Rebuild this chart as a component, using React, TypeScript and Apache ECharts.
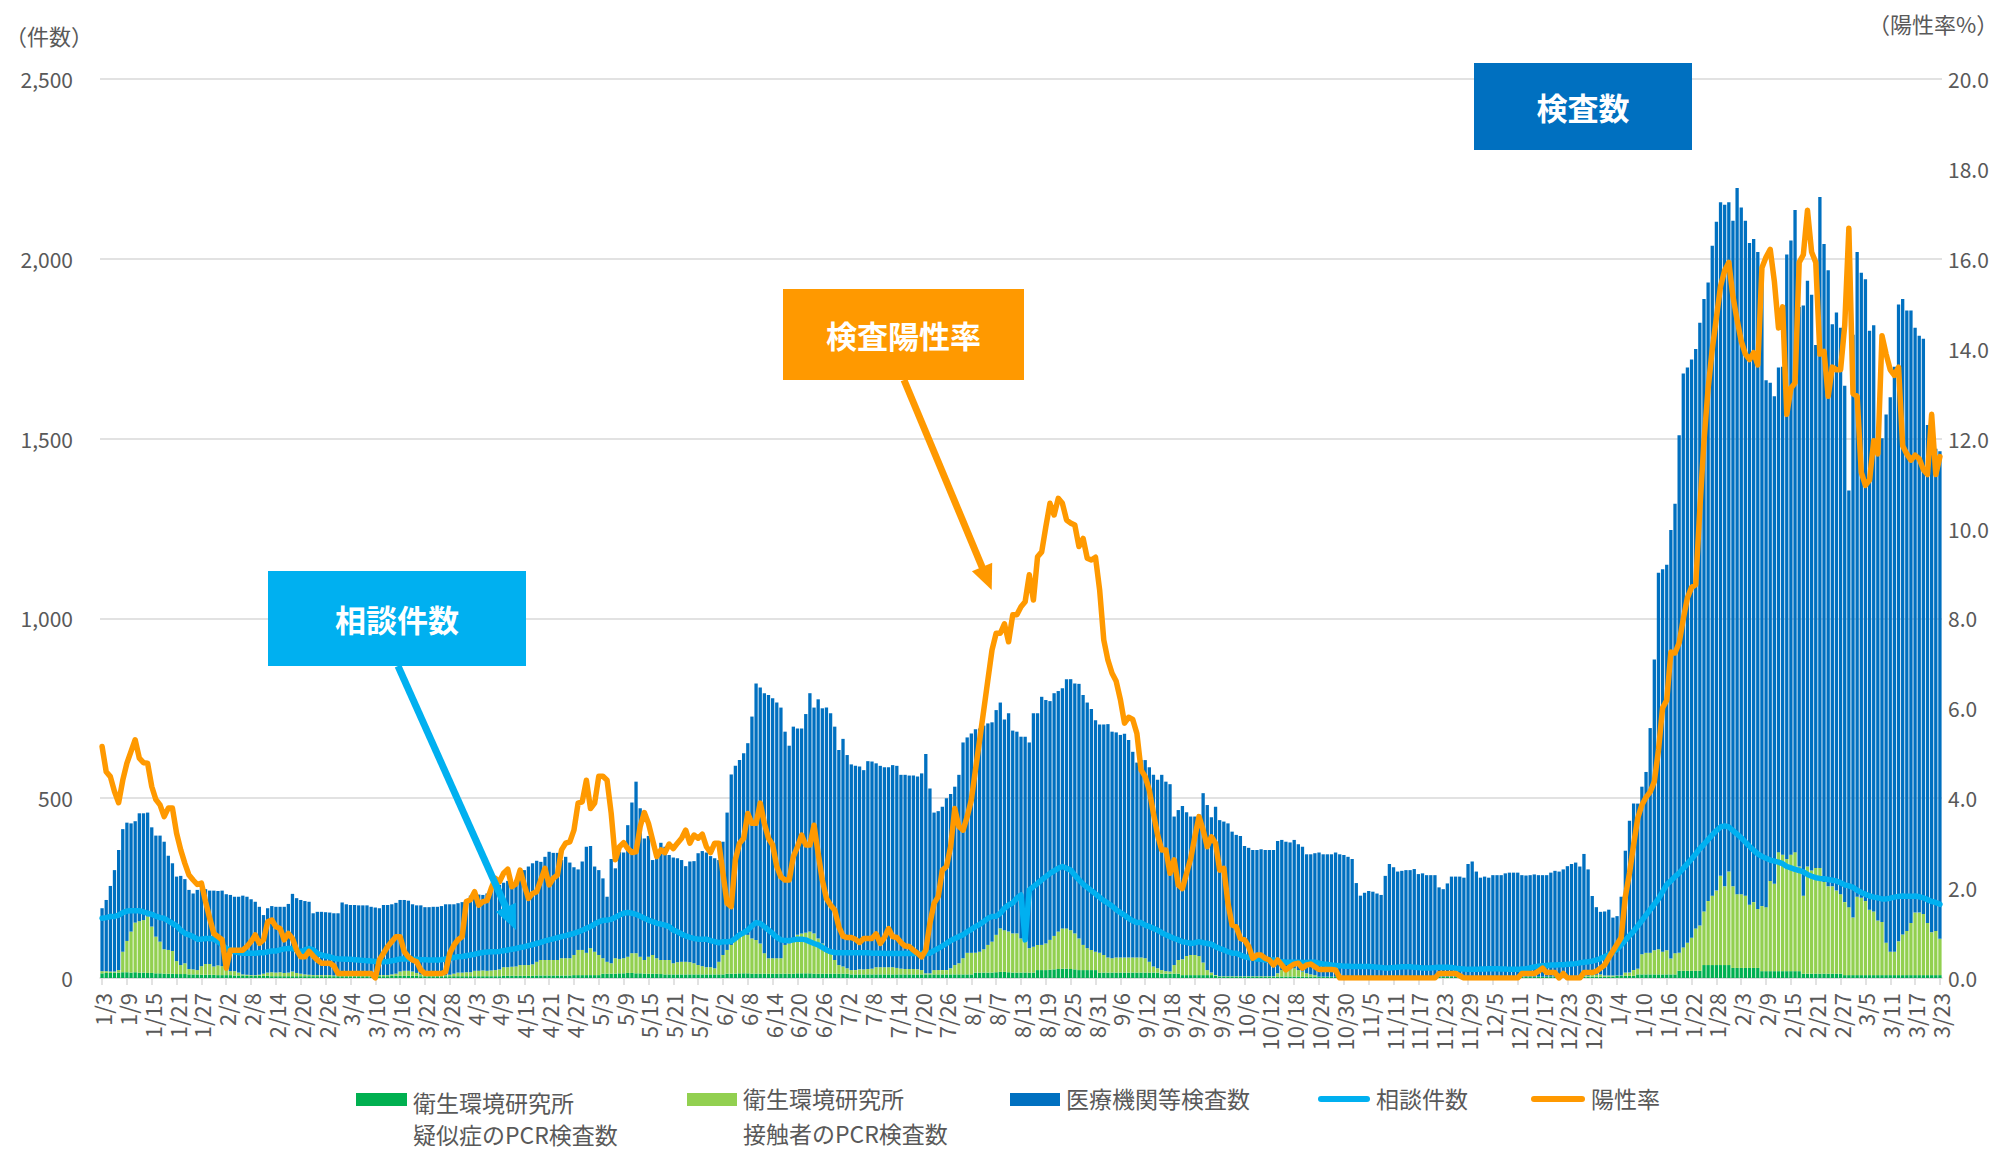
import React, { useEffect, useRef } from "react";
import * as echarts from "echarts";

const FONT = '"Noto Sans CJK JP", "Noto Sans", sans-serif';

// Daily categories 2022/1/3 – 2023/3/23
const START_UTC = Date.UTC(2022, 0, 3);
const DAY_COUNT = 445;
const categories: string[] = [];
for (let i = 0; i < DAY_COUNT; i++) {
  const d = new Date(START_UTC + i * 86400000);
  categories.push(`${d.getUTCMonth() + 1}/${d.getUTCDate()}`);
}

// 衛生環境研究所 疑似症のPCR検査数
const suspectTests = [
  13,14,14,15,15,16,16,15,16,15, 15,14,14,13,13,12,12,12,11,11,
  11,10,10,10,9,9,9,9,8,8, 8,8,7,7,7,6,6,6,6,6,
  6,5,5,5,5,5,5,5,5,5, 5,5,5,5,5,5,5,5,5,5,
  5,5,5,5,5,5,5,5,5,5, 6,6,6,6,6,6,6,5,5,5,
  5,5,5,5,5,5,5,5,5,5, 5,5,5,5,5,5,5,6,6,6,
  6,6,6,6,6,7,7,7,7,7, 7,7,7,7,8,8,8,8,8,8,
  8,12,12,12,12,13,13,14,14,13, 13,12,12,12,12,11,10,10,10,10,
  10,10,10,10,10,10,10,10,10,10, 10,12,12,12,13,13,13,12,12,12,
  12,12,12,12,12,12,12,12,13,13, 13,13,12,12,12,12,12,12,12,12,
  12,10,10,10,10,10,10,10,10,10, 10,10,10,10,10,10,10,10,10,10,
  10,10,10,10,10,10,10,10,10,10, 10,15,15,15,15,15,16,17,17,16,
  15,15,15,15,15,15,22,22,22,23, 24,25,26,26,25,24,22,22,22,22,
  22,15,15,15,15,15,15,15,15,15, 15,15,15,15,15,15,12,12,12,12,
  12,8,8,8,8,8,8,8,8,6, 4,4,4,4,4,4,4,4,4,4,
  4,4,4,4,4,4,4,4,4,4, 4,4,4,4,4,4,4,4,4,4,
  4,4,4,4,4,4,4,4,4,4, 4,4,4,4,4,4,4,4,4,4,
  4,4,4,4,4,4,4,4,4,4, 4,4,4,4,4,4,4,4,4,4,
  4,4,4,4,4,4,4,4,4,4, 4,4,4,4,4,4,4,4,4,4,
  4,4,4,4,4,4,6,6,6,6, 6,10,10,10,10,10,10,10,10,10,
  10,20,20,20,20,20,20,36,36,36, 36,36,36,36,28,28,28,28,28,28,
  28,19,19,19,19,19,19,19,19,19, 19,12,12,12,12,12,12,12,12,12,
  12,8,8,8,8,8,8,8,8,8, 8,8,8,8,8,8,8,8,8,8,
  8,8,8,8,8
];

// 衛生環境研究所 接触者のPCR検査数
const contactTests = [
  6,5,4,3,7,57,87,114,138,143, 146,157,129,102,88,68,66,63,36,25,
  30,15,14,12,24,30,30,23,27,25, 14,11,12,8,3,3,2,2,3,6,
  9,11,10,11,9,10,13,9,7,5, 4,3,3,3,3,3,2,2,2,2,
  2,2,2,2,2,2,2,3,3,3, 4,6,12,14,14,12,8,5,3,3,
  3,3,3,3,4,7,10,10,11,11, 15,15,16,15,16,17,19,24,24,25,
  26,30,30,30,32,38,43,43,43,43, 43,48,48,48,56,70,70,62,75,65,
  56,43,33,29,43,40,42,45,55,56, 46,38,47,52,43,39,40,40,31,34,
  35,35,34,31,26,23,20,20,17,35, 54,66,80,94,107,116,107,98,94,84,
  57,43,43,43,43,80,84,89,107,111, 113,116,112,98,84,66,57,38,24,20,
  15,12,12,14,14,15,16,20,20,20, 20,20,18,16,15,15,15,14,12,3,
  3,12,12,12,12,17,26,31,45,60, 60,55,58,65,77,86,104,121,116,113,
  109,109,95,86,68,72,70,70,74,83, 93,104,112,112,108,100,88,70,61,56,
  51,55,49,42,40,42,42,42,42,42, 42,42,40,30,17,12,10,7,6,24,
  38,44,53,56,56,53,35,14,7,2, 1,1,1,1,1,1,1,1,1,1,
  1,1,1,1,9,18,20,20,23,18, 14,9,6,4,0,0,0,0,0,0,
  0,0,0,0,0,0,0,0,0,0, 0,0,0,0,0,0,0,0,0,0,
  0,0,0,0,0,0,0,0,0,0, 0,0,0,0,0,0,0,0,0,0,
  0,0,0,0,0,0,0,0,0,0, 0,0,0,0,0,1,1,1,2,2,
  4,5,6,3,3,3,1,1,9,9, 16,16,56,60,60,67,70,63,67,44,
  59,50,65,78,92,118,126,149,178,193, 207,248,219,260,227,205,205,201,176,183,
  164,181,178,251,243,331,324,312,324,331, 291,217,298,287,294,294,255,243,243,231,
  221,203,189,160,218,215,206,182,177,152, 148,90,65,65,94,113,123,145,174,174,
  170,145,119,123,101
];

// 医療機関等検査数
const medicalTests = [
  175,198,238,282,334,341,329,301,282,300, 297,289,276,281,295,299,262,244,235,248,
  234,220,211,223,216,208,204,211,207,210, 211,212,207,211,219,217,211,204,189,163,
  179,184,183,182,184,191,216,208,205,204, 203,172,176,176,175,174,173,173,203,198,
  196,196,195,195,195,191,189,186,195,195, 195,197,199,197,195,187,188,192,189,189,
  190,190,192,197,196,193,193,196,201,213, 215,212,210,215,224,230,235,235,240,225,
  241,250,264,274,281,281,273,287,301,298, 298,273,282,266,244,224,246,295,284,237,
  236,222,181,290,250,298,294,366,419,477, 413,338,336,264,296,326,315,292,294,289,
  283,266,280,284,311,320,319,309,306,283, 315,382,474,484,486,496,533,617,713,712,
  723,732,723,711,697,593,550,598,574,570, 608,663,628,665,654,674,667,649,598,633,
  593,572,568,564,554,578,576,567,560,556, 556,562,562,539,540,538,538,536,547,610,
  514,438,442,454,478,485,496,524,600,599, 610,622,621,622,616,610,625,628,586,607,
  564,561,561,570,572,649,644,690,677,664, 675,669,668,693,698,695,708,695,683,670,
  644,635,641,649,630,626,619,622,605,572, 542,549,551,541,533,524,543,527,521,413,
  417,426,400,385,385,394,471,459,432,468, 434,430,425,402,393,390,362,357,351,351,
  353,351,351,351,368,362,355,353,357,350, 347,331,334,339,345,340,340,340,345,340,
  338,333,327,260,225,233,238,236,231,227, 280,313,304,292,294,296,296,299,285,287,
  282,282,282,248,243,259,278,278,278,275, 313,320,292,275,278,275,282,282,282,287,
  289,289,289,282,281,282,284,282,282,282, 289,294,292,298,307,312,316,305,339,296,
  220,188,174,178,183,161,165,219,339,422, 463,459,466,503,625,809,1047,1064,1072,1192,
  1250,1439,1596,1600,1608,1611,1676,1703,1720,1807, 1860,1873,1895,1861,1851,1964,1910,1877,1840,1844,
  1827,1768,1465,1385,1356,1348,1357,1681,1708,1786, 1556,1641,1629,1601,1454,1866,1774,1713,1563,1608,
  1575,1436,1159,1621,1793,1738,1729,1610,1630,1334, 1345,1469,1542,1627,1771,1767,1725,1703,1626,1604,
  1600,1385,1353,1341,1356
];

// 相談件数
const consultations = [
  166,168,171,171,175,182,186,187,187,187, 184,180,177,172,168,166,159,152,145,133,
  124,120,115,108,108,110,110,108,101,92, 82,78,73,71,69,69,69,69,70,70,
  73,75,75,78,81,82,82,78,73,78, 82,78,69,64,61,59,55,53,53,52,
  52,51,50,49,48,47,46,45,45,46, 48,50,53,53,53,52,52,51,51,50,
  50,50,51,53,55,57,59,60,62,64, 66,69,71,72,73,73,74,76,78,80,
  82,85,87,90,93,96,99,103,106,109, 112,115,118,121,124,128,133,138,143,150,
  156,160,161,163,169,175,180,182,180,177, 172,166,161,157,152,150,147,143,133,129,
  122,117,113,110,108,108,108,104,101,98, 101,101,102,110,120,126,133,145,154,152,
  143,133,124,113,106,104,104,106,108,108, 106,101,96,92,85,78,73,71,70,70,
  70,70,70,70,70,70,69,69,69,68, 68,68,68,68,68,68,68,68,68,68,
  69,76,82,89,96,104,110,115,120,129, 135,143,149,157,166,171,172,180,194,203,
  209,222,231,106,245,254,263,273,282,291, 298,305,310,305,300,286,273,261,252,243,
  234,224,215,208,200,190,182,175,166,159, 154,154,147,143,138,133,126,120,115,110,
  106,101,99,96,98,101,98,96,94,87, 82,78,73,69,69,64,59,57,55,53,
  52,50,50,50,47,45,44,44,44,44, 43,43,44,44,41,39,38,36,35,34,
  33,33,32,32,32,32,32,31,30,29, 28,28,29,30,31,31,31,30,29,28,
  28,28,29,30,30,30,29,27,26,25, 24,24,24,25,25,26,26,26,25,25,
  24,24,24,25,26,28,31,33,34,35, 36,36,37,37,38,39,40,42,44,45,
  47,50,54,59,65,72,80,92,105,118, 130,145,160,175,190,205,220,240,260,270,
  282,292,305,318,331,345,360,372,385,398, 410,420,423,420,410,400,390,378,366,355,
  345,338,333,328,325,322,318,310,306,302, 299,295,288,283,279,277,276,274,272,270,
  265,259,256,252,244,238,233,228,225,223, 220,220,222,225,227,228,227,227,228,226,
  223,218,213,210,205
];

// 陽性率 (%)
const positivityRate = [
  5.15,4.59,4.48,4.15,3.90,4.40,4.78,5.04,5.30,4.89, 4.79,4.78,4.26,3.97,3.85,3.59,3.78,3.78,3.22,2.85,
  2.55,2.29,2.18,2.08,2.11,1.70,1.33,0.99,0.92,0.85, 0.22,0.62,0.62,0.62,0.62,0.70,0.81,0.96,0.77,0.85,
  1.25,1.29,1.14,1.10,0.85,0.99,0.88,0.62,0.47,0.47, 0.59,0.49,0.40,0.33,0.33,0.33,0.27,0.10,0.10,0.10,
  0.10,0.10,0.10,0.10,0.10,0.10,0.00,0.40,0.55,0.70, 0.81,0.92,0.92,0.59,0.47,0.40,0.36,0.18,0.10,0.10,
  0.10,0.10,0.10,0.14,0.55,0.73,0.85,0.92,1.70,1.74, 1.92,1.62,1.70,1.72,1.99,2.22,2.14,2.33,2.42,2.03,
  2.09,2.40,2.07,1.77,1.88,1.92,2.18,2.44,2.07,2.22, 2.29,2.85,3.00,3.03,3.29,3.89,3.92,4.40,3.77,3.89,
  4.49,4.49,4.40,3.66,2.63,2.92,3.01,2.88,2.79,2.81, 3.37,3.68,3.44,3.07,2.70,2.85,2.79,2.98,2.88,3.00,
  3.11,3.29,3.00,3.18,3.11,3.20,2.92,2.79,3.00,3.00, 2.33,1.66,1.59,2.63,3.00,3.11,3.66,3.44,3.44,3.89,
  3.44,3.11,2.96,2.48,2.25,2.18,2.18,2.70,2.92,3.18, 2.96,2.96,3.40,2.77,2.18,1.77,1.62,1.51,1.14,0.93,
  0.90,0.90,0.86,0.79,0.88,0.88,0.88,0.98,0.77,0.90, 1.10,0.92,0.90,0.79,0.71,0.70,0.62,0.55,0.47,0.62,
  1.22,1.66,1.81,2.40,2.48,2.92,3.77,3.37,3.29,3.59, 3.96,4.63,5.29,5.96,6.63,7.30,7.67,7.67,7.88,7.48,
  8.08,8.08,8.26,8.37,8.97,8.41,9.37,9.48,10.04,10.56, 10.30,10.67,10.56,10.19,10.12,10.08,9.60,9.78,9.34,9.30,
  9.36,8.63,7.52,7.07,6.78,6.60,6.20,5.67,5.80,5.75, 5.44,4.63,4.48,4.18,3.66,3.18,2.85,2.85,2.33,2.63,
  2.07,1.99,2.33,2.66,3.14,3.59,3.29,2.92,3.14,3.00, 2.40,2.44,1.66,1.18,1.14,0.88,0.85,0.70,0.44,0.51,
  0.51,0.44,0.40,0.29,0.40,0.29,0.18,0.25,0.31,0.33, 0.22,0.29,0.31,0.25,0.19,0.19,0.19,0.19,0.18,0,
  0,0,0,0,0,0,0,0,0,0, 0,0,0,0,0,0,0,0,0,0,
  0,0,0,0.1,0.1,0.1,0.1,0.1,0.05,0, 0,0,0,0,0,0,0,0,0,0,
  0,0,0,0.1,0.1,0.1,0.1,0.15,0.22,0.12, 0.12,0.12,0,0.1,0,0,0,0,0.12,0.12,
  0.12,0.15,0.22,0.29,0.45,0.6,0.75,0.9,1.81,2.33, 2.97,3.56,3.85,4.02,4.14,4.37,5.07,6.01,6.18,7.25,
  7.23,7.46,7.99,8.46,8.69,8.75,10.44,11.95,13.12,13.99, 14.69,15.39,15.74,15.92,15.16,14.64,14.17,13.88,13.76,13.91,
  13.64,15.80,16.04,16.21,15.5,14.46,14.93,12.54,13.12,13.24, 15.92,16.09,17.08,16.15,15.92,13.88,13.94,12.94,13.59,13.53,
  13.53,14.52,16.68,13.00,12.94,11.25,10.96,11.08,11.95,11.66, 14.29,13.88,13.53,13.41,13.59,11.84,11.66,11.52,11.63,11.55,
  11.31,11.20,12.54,11.20,11.60
];

const COLORS = {
  suspect: "#00B050",
  contact: "#92D050",
  medical: "#0070C0",
  consult: "#00B0F0",
  rate: "#FF9900",
  text: "#595959",
  grid: "#D9D9D9",
};

function legendText(text: string, x: number, y: number) {
  return {
    type: "text",
    z: 100,
    style: { text, x, y, fill: COLORS.text, font: `23px ${FONT}`, verticalAlign: "middle", align: "left" },
  };
}

function boxLabel(text: string, x: number, y: number, w: number, h: number, color: string) {
  return [
    { type: "rect", z: 100, shape: { x, y, width: w, height: h }, style: { fill: color } },
    {
      type: "text",
      z: 101,
      style: {
        text,
        x: x + w / 2,
        y: y + h / 2,
        fill: "#FFFFFF",
        font: `bold 31px ${FONT}`,
        align: "center",
        verticalAlign: "middle",
      },
    },
  ];
}

function arrow(x1: number, y1: number, x2: number, y2: number, color: string) {
  const dx = x2 - x1;
  const dy = y2 - y1;
  const len = Math.sqrt(dx * dx + dy * dy);
  const ux = dx / len;
  const uy = dy / len;
  const headLen = 25;
  const half = 11;
  const bx = x2 - ux * headLen;
  const by = y2 - uy * headLen;
  return [
    { type: "line", z: 100, shape: { x1, y1, x2: bx + ux * 2, y2: by + uy * 2 }, style: { stroke: color, lineWidth: 7 } },
    {
      type: "polygon",
      z: 100,
      shape: { points: [[x2, y2], [bx - uy * half, by + ux * half], [bx + uy * half, by - ux * half]] },
      style: { fill: color },
    },
  ];
}

export default function App() {
  const ref = useRef<HTMLDivElement>(null);

  useEffect(() => {
    if (!ref.current) return;
    const chart = echarts.init(ref.current, undefined, { renderer: "svg" });
    const option: any = {
      animation: false,
      backgroundColor: "#FFFFFF",
      textStyle: { fontFamily: FONT },
      grid: { left: 100, right: 65, top: 79, bottom: 175, containLabel: false },
      xAxis: {
        type: "category",
        data: categories,
        boundaryGap: true,
        axisLine: { show: true, lineStyle: { color: COLORS.grid, width: 1.5 } },
        axisTick: { show: true, interval: 5, alignWithLabel: true, length: 7, lineStyle: { color: COLORS.grid, width: 1.5 } },
        axisLabel: { interval: 5, rotate: 90, fontSize: 22, color: COLORS.text, margin: 15, fontFamily: FONT },
      },
      yAxis: [
        {
          type: "value",
          min: 0,
          max: 2500,
          interval: 500,
          position: "left",
          axisLine: { show: false },
          axisTick: { show: false },
          splitLine: { show: true, lineStyle: { color: COLORS.grid, width: 1.5 } },
          axisLabel: {
            formatter: (v: number) => v.toLocaleString("en-US"),
            fontSize: 21,
            color: COLORS.text,
            margin: 27,
            fontFamily: FONT,
          },
        },
        {
          type: "value",
          min: 0,
          max: 20,
          interval: 2,
          position: "right",
          axisLine: { show: false },
          axisTick: { show: false },
          splitLine: { show: false },
          axisLabel: {
            formatter: (v: number) => v.toFixed(1),
            fontSize: 21,
            color: COLORS.text,
            margin: 6,
            fontFamily: FONT,
          },
        },
      ],
      series: [
        {
          name: "衛生環境研究所 疑似症のPCR検査数",
          type: "bar",
          stack: "tests",
          data: suspectTests,
          barCategoryGap: "20%",
          itemStyle: { color: COLORS.suspect },
        },
        {
          name: "衛生環境研究所 接触者のPCR検査数",
          type: "bar",
          stack: "tests",
          data: contactTests,
          barCategoryGap: "20%",
          itemStyle: { color: COLORS.contact },
        },
        {
          name: "医療機関等検査数",
          type: "bar",
          stack: "tests",
          data: medicalTests,
          barCategoryGap: "20%",
          itemStyle: { color: COLORS.medical },
        },
        {
          name: "相談件数",
          type: "line",
          data: consultations,
          symbol: "none",
          z: 5,
          lineStyle: { color: COLORS.consult, width: 5.5, join: "round", cap: "round" },
        },
        {
          name: "陽性率",
          type: "line",
          yAxisIndex: 1,
          data: positivityRate,
          symbol: "none",
          z: 6,
          lineStyle: { color: COLORS.rate, width: 5.5, join: "round", cap: "round" },
        },
      ],
      graphic: [
        {
          type: "text",
          z: 100,
          style: { text: "（件数）", x: 5, y: 35, fill: COLORS.text, font: `22px ${FONT}`, verticalAlign: "middle" },
        },
        {
          type: "text",
          z: 100,
          style: { text: "（陽性率%）", x: 1868, y: 23, fill: COLORS.text, font: `22px ${FONT}`, verticalAlign: "middle" },
        },
        ...boxLabel("検査数", 1474, 63, 218, 87, COLORS.medical),
        ...boxLabel("検査陽性率", 783, 289, 241, 91, COLORS.rate),
        ...boxLabel("相談件数", 268, 571, 258, 95, COLORS.consult),
        ...arrow(904, 380, 991.7, 590, COLORS.rate),
        ...arrow(398, 666, 516, 930, COLORS.consult),
        // legend
        { type: "rect", z: 100, shape: { x: 356, y: 1093, width: 51, height: 13 }, style: { fill: COLORS.suspect } },
        legendText("衛生環境研究所", 413, 1102),
        legendText("疑似症のPCR検査数", 413, 1134),
        { type: "rect", z: 100, shape: { x: 687, y: 1093, width: 50, height: 13 }, style: { fill: COLORS.contact } },
        legendText("衛生環境研究所", 743, 1098),
        legendText("接触者のPCR検査数", 743, 1133),
        { type: "rect", z: 100, shape: { x: 1010, y: 1093, width: 50, height: 13 }, style: { fill: COLORS.medical } },
        legendText("医療機関等検査数", 1066, 1098),
        {
          type: "line",
          z: 100,
          shape: { x1: 1321, y1: 1099, x2: 1367, y2: 1099 },
          style: { stroke: COLORS.consult, lineWidth: 6, lineCap: "round" },
        },
        legendText("相談件数", 1376, 1098),
        {
          type: "line",
          z: 100,
          shape: { x1: 1534, y1: 1099, x2: 1582, y2: 1099 },
          style: { stroke: COLORS.rate, lineWidth: 6, lineCap: "round" },
        },
        legendText("陽性率", 1591, 1098),
      ],
    };
    chart.setOption(option);
    return () => chart.dispose();
  }, []);

  return (
    <div
      ref={ref}
      style={{ position: "fixed", left: 0, top: 0, width: 2007, height: 1153, background: "#FFFFFF" }}
    />
  );
}
